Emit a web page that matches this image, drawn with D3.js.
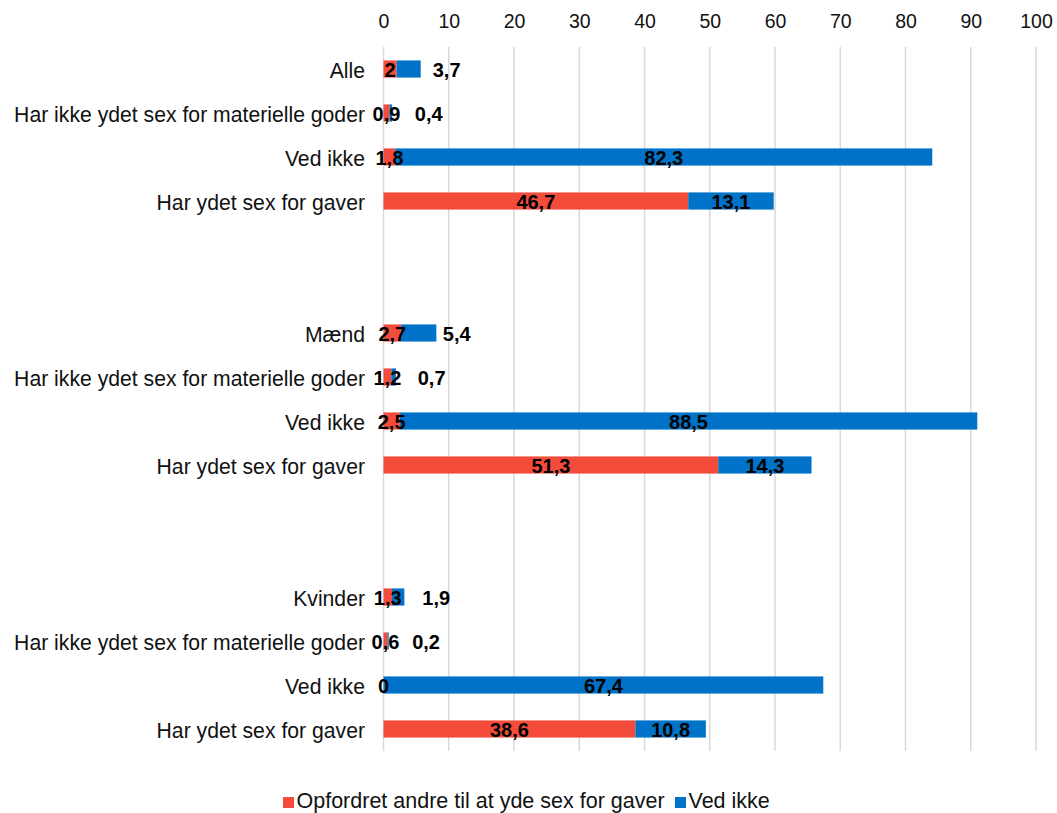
<!DOCTYPE html>
<html><head><meta charset="utf-8">
<script src="https://cdn.jsdelivr.net/npm/d3@7"></script>
<style>body{margin:0;background:#fff;}svg{display:block;font-family:"Liberation Sans",Arial,sans-serif;}</style>
</head><body>
<svg id="c" width="1057" height="813"></svg>
<script>
// Rows (blank strings are spacer rows between groups)
const categories = ["Alle","Har ikke ydet sex for materielle goder","Ved ikke","Har ydet sex for gaver","","",
  "Mænd","Har ikke ydet sex for materielle goder","Ved ikke","Har ydet sex for gaver","","",
  "Kvinder","Har ikke ydet sex for materielle goder","Ved ikke","Har ydet sex for gaver"];
const opfordret = [2,0.9,1.8,46.7,null,null, 2.7,1.2,2.5,51.3,null,null, 1.3,0.6,0,38.6];
const vedIkke   = [3.7,0.4,82.3,13.1,null,null, 5.4,0.7,88.5,14.3,null,null, 1.9,0.2,67.4,10.8];
const seriesNames = ["Opfordret andre til at yde sex for gaver","Ved ikke"];
const ticks = [0,10,20,30,40,50,60,70,80,90,100];
const colors = ["#F44B3B","#0072C8"];

const svg = d3.select("#c");
const margin = {left:383.5, right:21, top:47, bottom:62};
const W = 1057, H = 813;
const x = d3.scaleLinear().domain([0,100]).range([margin.left, W - margin.right]);
const rowKeys = categories.map((c,i)=>i);
const y = d3.scaleBand().domain(rowKeys).range([margin.top, H - margin.bottom]).paddingInner(0.61).paddingOuter(0.305);

// gridlines
svg.append("g").selectAll("line").data(ticks).join("line")
  .attr("x1",d=>x(d)).attr("x2",d=>x(d))
  .attr("y1",margin.top).attr("y2",H-margin.bottom)
  .attr("stroke","#D9D9D9").attr("stroke-width",1.5);

// top axis
const ax = svg.append("g").attr("transform",`translate(0,${margin.top})`)
  .call(d3.axisTop(x).tickValues(ticks).tickSize(0).tickPadding(19));
ax.select(".domain").remove();
ax.selectAll("text").attr("font-size",19.5).attr("fill","#111").attr("font-family","Liberation Sans, Arial, sans-serif");

// category labels
svg.append("g").selectAll("text").data(categories.map((c,i)=>({c,i})).filter(d=>d.c))
  .join("text")
  .attr("x", margin.left - 18.5)
  .attr("y", d=>y(d.i)+y.bandwidth()/2 + 1)
  .attr("dy","0.36em").attr("text-anchor","end")
  .attr("font-size",21.2).attr("fill","#111").text(d=>d.c);

// stacked bars
const rows = rowKeys.filter(i=>opfordret[i]!==null).map(i=>({i, a:opfordret[i], b:vedIkke[i]}));
const segs = [];
rows.forEach(r=>{
  segs.push({i:r.i, s:0, x0:0, x1:r.a, v:r.a});
  segs.push({i:r.i, s:1, x0:r.a, x1:r.a+r.b, v:r.b});
});
svg.append("g").selectAll("rect").data(segs).join("rect")
  .attr("x",d=>x(d.x0)).attr("width",d=>Math.max(0,x(d.x1)-x(d.x0)))
  .attr("y",d=>y(d.i)).attr("height",y.bandwidth())
  .attr("fill",d=>colors[d.s]);

// value labels
const fmt = v => String(v).replace(".",",");
svg.append("g").selectAll("text").data(segs).join("text")
  .attr("x",d=>{
    const c = x((d.x0+d.x1)/2);
    return (d.s===1 && d.v<6) ? c+38 : c;
  })
  .attr("y",d=>y(d.i)+y.bandwidth()/2 + 1)
  .attr("dy","0.36em").attr("text-anchor","middle")
  .attr("font-size",20).attr("font-weight","bold").attr("fill","#000")
  .text(d=>fmt(d.v));

// legend
const lg = svg.append("g");
const lx = [283, 675];
seriesNames.forEach((n,k)=>{
  lg.append("rect").attr("x",lx[k]).attr("y",797).attr("width",11).attr("height",11).attr("fill",colors[k]);
  lg.append("text").attr("x",lx[k]+13.5).attr("y",808).attr("font-size",21.5).attr("fill","#111").text(n);
});
</script>
</body></html>
